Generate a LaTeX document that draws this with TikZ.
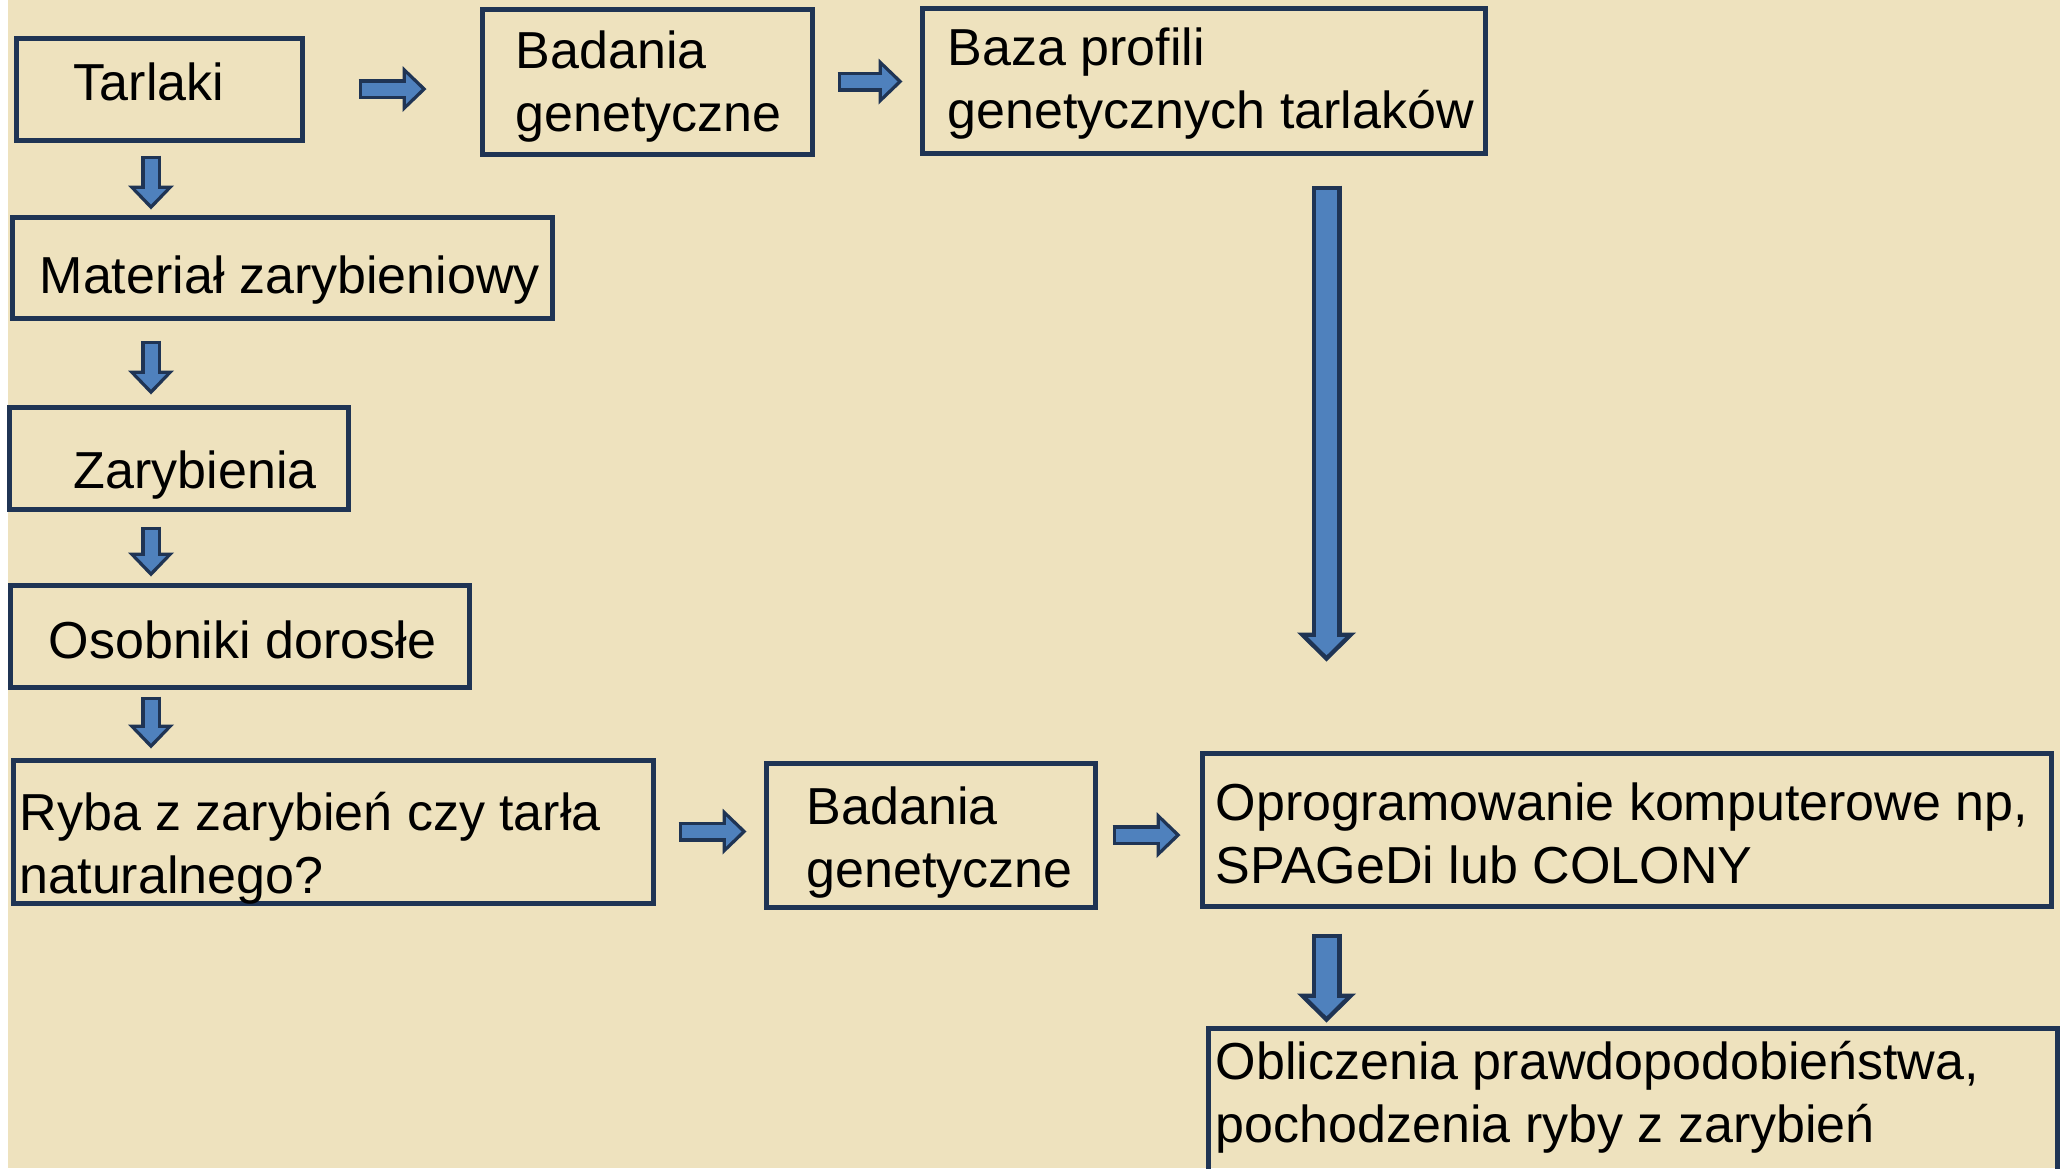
\documentclass[tikz,border=0pt]{standalone}
\usepackage{fontspec}
\setmainfont{Liberation Sans}
\usetikzlibrary{arrows.meta}
\definecolor{boxline}{RGB}{31,52,84}
\definecolor{arrowblue}{RGB}{79,129,189}
\definecolor{paper}{RGB}{238,226,190}
\tikzset{
  box/.style={draw=boxline,line width=0.05cm,inner sep=0pt},
  txt/.style={inner sep=0pt,align=left,font=\fontsize{14.8}{17.9}\selectfont},
  flow/.style={draw=boxline,line width=0.2cm,
    -{Triangle[length=0.24cm,width=0.46cm,line width=0pt,color=boxline]},
    postaction={draw=arrowblue,line width=0.13cm,
      arrows={Rectangle[length=0.035cm,width=0.2cm,line width=0pt,color=boxline]-Triangle[length=0.155cm,width=0.30cm,sep=0.05cm,line width=0pt,color=arrowblue]}}},
  bigflow/.style={draw=boxline,line width=0.3cm,
    -{Triangle[length=0.29cm,width=0.59cm,line width=0pt,color=boxline]},
    postaction={draw=arrowblue,line width=0.21cm,
      arrows={Rectangle[length=0.045cm,width=0.3cm,line width=0pt,color=boxline]-Triangle[length=0.182cm,width=0.37cm,sep=0.063cm,line width=0pt,color=arrowblue]}}}
}
\begin{document}
\begin{tikzpicture}
\useasboundingbox (0,0) rectangle (20.6,-11.68);
\fill[white] (0,0) rectangle (20.6,-11.68);
\fill[paper] (0.08,0) rectangle (20.6,-11.68);
\coordinate (col) at (1.51,0);
\coordinate (colr) at (13.265,0);
\node[box,minimum width=2.85cm,minimum height=1.02cm] (tarlaki) at (1.595,-0.89) {};
\node[box,minimum width=3.30cm,minimum height=1.45cm] (badgen) at (6.47,-0.815) {};
\node[box,minimum width=5.63cm,minimum height=1.45cm] (baza) at (12.035,-0.805) {};
\node[box,minimum width=5.39cm,minimum height=1.01cm] (material) at (2.825,-2.675) {};
\node[box,minimum width=3.38cm,minimum height=1.02cm] (zaryb) at (1.79,-4.58) {};
\node[box,minimum width=4.59cm,minimum height=1.02cm] (osobniki) at (2.395,-6.36) {};
\node[box,minimum width=6.40cm,minimum height=1.43cm] (ryba) at (3.33,-8.315) {};
\node[box,minimum width=3.29cm,minimum height=1.44cm] (badgenb) at (9.305,-8.35) {};
\node[box,minimum width=8.49cm,minimum height=1.53cm] (oprog) at (16.265,-8.295) {};
\node[box,minimum width=8.49cm,minimum height=1.72cm] (oblicz) at (16.325,-11.14) {};
\node[txt,anchor=base west] (tarlakiT) at (0.73,-1.00) {Tarlaki};
\node[txt,anchor=base west] (badgenT) at (5.15,-1.31) {Badania\\genetyczne};
\node[txt,anchor=base west] (bazaT) at (9.47,-1.28) {Baza profili\\genetycznych tarlaków};
\node[txt,anchor=base west] (materialT) at (0.39,-2.93) {Materiał zarybieniowy};
\node[txt,anchor=base west] (zarybT) at (0.73,-4.88) {Zarybienia};
\node[txt,anchor=base west] (osobnikiT) at (0.48,-6.58) {Osobniki dorosłe};
\node[txt,anchor=base west] (rybaT) at (0.19,-8.93) {Ryba z zarybień czy tarła\\naturalnego?};
\node[txt,anchor=base west] (badgenbT) at (8.06,-8.87) {Badania\\genetyczne};
\node[txt,anchor=base west] (oprogT) at (12.15,-8.83) {Oprogramowanie komputerowe np,\\SPAGeDi lub COLONY};
\node[txt,anchor=base west] (obliczT) at (12.15,-11.42) {Obliczenia prawdopodobieństwa,\\pochodzenia ryby z zarybień};
\draw[flow,shorten <=0.54cm,shorten >=0.53cm] (tarlaki.east) -- (tarlaki.east -| badgen.west);
\draw[flow,shorten <=0.23cm,shorten >=0.17cm] (badgen.east) -- (badgen.east -| baza.west);
\draw[flow,shorten <=0.13cm,shorten >=0.05cm] (tarlaki.south -| col) -- (material.north -| col);
\draw[flow,shorten <=0.20cm,shorten >=0.10cm] (material.south -| col) -- (zaryb.north -| col);
\draw[flow,shorten <=0.15cm,shorten >=0.06cm] (zaryb.south -| col) -- (osobniki.north -| col);
\draw[flow,shorten <=0.07cm,shorten >=0.09cm] (osobniki.south -| col) -- (ryba.north -| col);
\draw[flow,shorten <=0.23cm,shorten >=0.17cm] (ryba.east) -- (ryba.east -| badgenb.west);
\draw[flow,shorten <=0.15cm,shorten >=0.19cm] (badgenb.east) -- (badgenb.east -| oprog.west);
\draw[bigflow,shorten <=0.30cm,shorten >=0.89cm] (baza.south -| colr) -- (oprog.north -| colr);
\draw[bigflow,shorten <=0.25cm,shorten >=0.03cm] (oprog.south -| colr) -- (oblicz.north -| colr);
\end{tikzpicture}
\end{document}
